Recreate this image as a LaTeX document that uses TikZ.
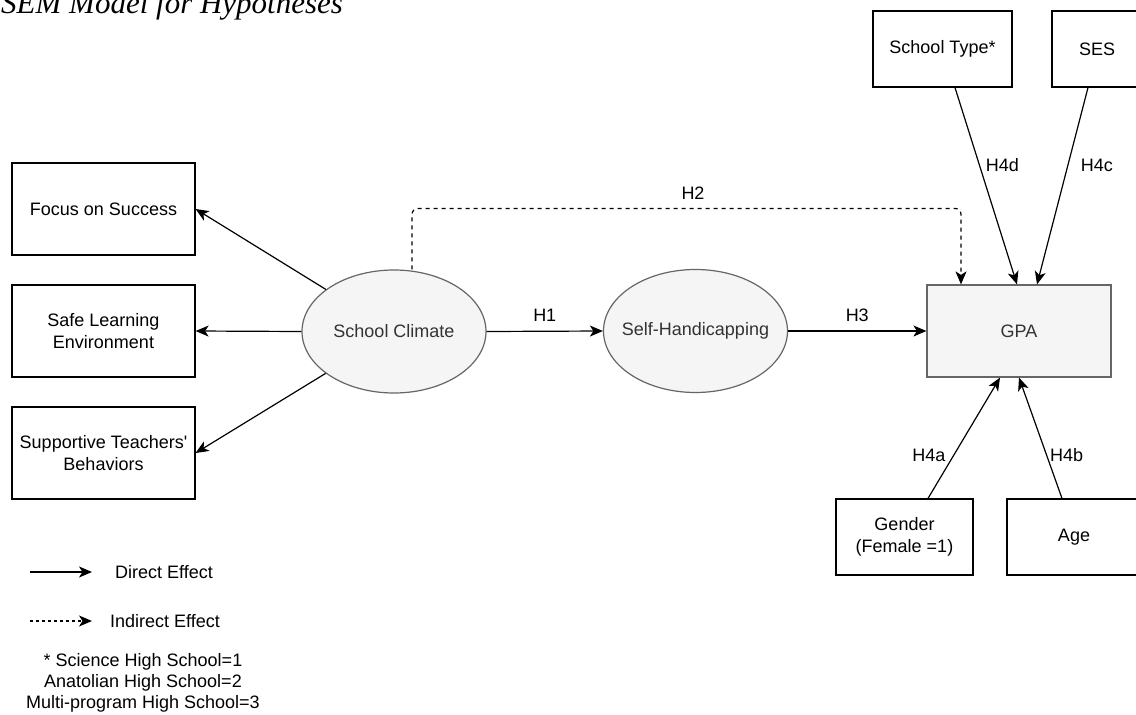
\documentclass[tikz,border=0pt]{standalone}
\usepackage{fontspec}
\setmainfont{Liberation Sans}
\newfontfamily\titlefont{Liberation Serif}
\usetikzlibrary{arrows.meta,shapes.geometric}
\definecolor{fillg}{HTML}{F5F5F5}
\definecolor{edgeg}{HTML}{666666}
\definecolor{txtg}{HTML}{333333}
\begin{document}
\begin{tikzpicture}[x=1pt,y=-1pt,
  every node/.style={font=\fontsize{18}{22}\selectfont},
  whitebox/.style={rectangle,draw=black,line width=1.2pt,fill=white,inner sep=0pt,align=center},
  latent/.style={ellipse,draw=edgeg,fill=fillg,line width=1.2pt,text=txtg,minimum width=184pt,minimum height=123pt,inner xsep=-14pt,inner ysep=0pt},
  graybox/.style={rectangle,draw=edgeg,fill=fillg,line width=1.2pt,text=txtg,inner sep=0pt},
  conn/.style={line width=1.2pt,-{Stealth[length=13pt,width=11pt,inset=3.5pt]}},
  indirect/.style={conn,dash pattern=on 4pt off 4pt},
  lbl/.style={inner sep=1pt}
]
\useasboundingbox (0,0) rectangle (1136,715);

% title
\node[anchor=base west,inner sep=0pt,font=\titlefont\itshape\fontsize{31}{36}\selectfont] (title) at (1,13) {SEM Model for Hypotheses};

% indicators
\node[whitebox,minimum width=183pt,minimum height=92pt] (fos) at (103.5,209) {Focus on Success};
\node[whitebox,minimum width=183pt,minimum height=92pt] (sle) at (103.5,331) {Safe Learning\\Environment};
\node[whitebox,minimum width=183pt,minimum height=92pt] (stb) at (103.5,453) {Supportive Teachers\textquotesingle\\Behaviors};

% latent variables
\node[latent] (sc) at (394,331.5) {School Climate};
\node[latent] (sh) at (695.5,331) {Self-Handicapping};

% outcome
\node[graybox,minimum width=184pt,minimum height=92pt] (gpa) at (1019,331) {GPA};

% covariates
\node[whitebox,minimum width=139pt,minimum height=76pt] (st) at (942.5,49) {School Type*};
\node[whitebox,minimum width=90pt,minimum height=76pt] (ses) at (1097,49) {SES};
\node[whitebox,minimum width=137pt,minimum height=76pt] (gen) at (904.5,537) {Gender\\(Female =1)};
\node[whitebox,minimum width=134pt,minimum height=76pt] (age) at (1074,537) {Age};

% measurement arrows
\draw[conn] (sc) -- (fos.east);
\draw[conn] (sc.west) -- (sle.east);
\draw[conn] (sc) -- (stb.east);

% structural paths
\draw[conn] (sc.east) -- node[lbl,midway,yshift=16pt] (h1) {H1} (sh.west);
\draw[conn] (sh.east) -- node[lbl,midway,yshift=16pt] (h3) {H3} (gpa.west);
\draw[indirect,rounded corners=6pt] ([xshift=18pt]sc.north) -- ++(0,-61) -| ([xshift=-58pt]gpa.north);
\node[lbl] (h2) at (693,193) {H2};

\draw[conn] ([xshift=12.5pt]st.south) -- node[lbl,pos=0.394,xshift=23pt] (h4d) {H4d} ([xshift=-2pt]gpa.north);
\draw[conn] ([xshift=-9pt]ses.south) -- node[lbl,pos=0.394,xshift=29pt] (h4c) {H4c} ([xshift=18pt]gpa.north);
\draw[conn] ([xshift=23.5pt]gen.north) -- node[lbl,pos=0.36,xshift=-25pt] (h4a) {H4a} ([xshift=-19pt]gpa.south);
\draw[conn] ([xshift=-12pt]age.north) -- node[lbl,pos=0.36,xshift=20pt] (h4b) {H4b} (gpa.south);

% legend
\coordinate (d1) at (30,572);
\coordinate (d2) at (92,572);
\draw[conn] (d1) -- (d2);
\node[anchor=west,inner sep=0pt] (dtext) at (115,572) {Direct Effect};
\coordinate (i1) at (30,621);
\coordinate (i2) at (92,621);
\draw[conn,dash pattern=on 3pt off 3pt] (i1) -- (i2);
\node[anchor=west,inner sep=0pt] (itext) at (110,621) {Indirect Effect};
\node[align=center,inner sep=0pt,font=\fontsize{18}{21}\selectfont] (note) at (143,683) {* Science High School=1\\Anatolian High School=2\\Multi-program High School=3};
\end{tikzpicture}
\end{document}
